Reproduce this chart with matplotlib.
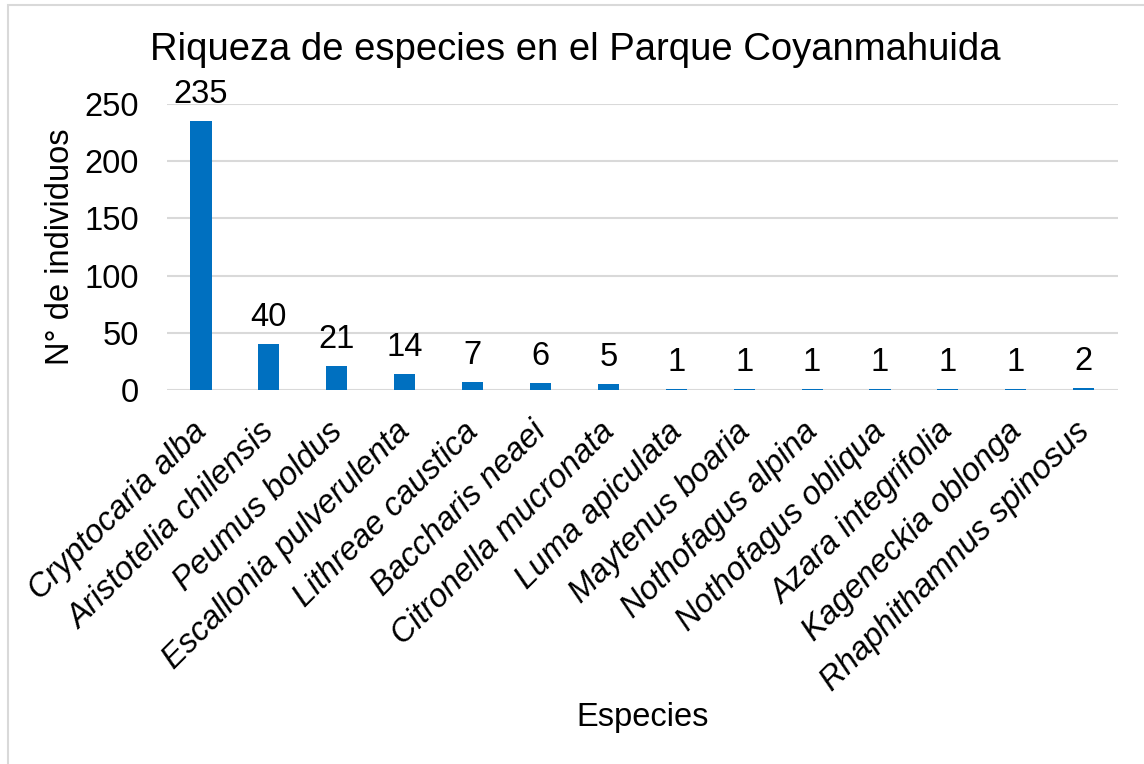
import matplotlib
matplotlib.use("Agg")
import matplotlib.pyplot as plt
import matplotlib.transforms as mtransforms
from matplotlib.patches import Rectangle

species = ["Cryptocaria alba", "Aristotelia chilensis", "Peumus boldus",
           "Escallonia pulverulenta", "Lithreae caustica", "Baccharis neaei",
           "Citronella mucronata", "Luma apiculata", "Maytenus boaria",
           "Nothofagus alpina", "Nothofagus obliqua", "Azara integrifolia",
           "Kageneckia oblonga", "Rhaphithamnus spinosus"]
counts = [235, 40, 21, 14, 7, 6, 5, 1, 1, 1, 1, 1, 1, 2]
yticks = [0, 50, 100, 150, 200, 250]

plt.rcParams['font.family'] = ['Liberation Sans', 'DejaVu Sans']
FS = 23.5

fig = plt.figure(figsize=(11.44, 7.64), dpi=100)
ax = fig.add_axes([0.146, 0.4895, 0.831, 0.3744])

x = list(range(len(species)))
ax.bar(x, counts, width=0.31, color='#0070C0', zorder=3)
for xi, v in zip(x, counts):
    ax.annotate(str(v), (xi, v), xytext=(0, 8), textcoords='offset points',
                ha='center', va='bottom', fontsize=FS, color='#000000')

ax.set_xlim(-0.5, len(species) - 0.5)
ax.set_ylim(0, 250)
ax.set_yticks(yticks)
ax.set_yticklabels([str(t) for t in yticks], fontsize=FS)
ax.set_xticks(x)
ax.set_xticklabels(species, rotation=45, ha='right', rotation_mode='anchor',
                   fontsize=FS, style='italic')
ax.tick_params(axis='y', length=0, pad=20)
ax.tick_params(axis='x', length=0, pad=16)
shift = mtransforms.ScaledTranslation(-0.10, -0.04, fig.dpi_scale_trans)
for lbl in ax.get_xticklabels():
    lbl.set_transform(lbl.get_transform() + shift)
ax.grid(axis='y', color='#d9d9d9', linewidth=1.5, zorder=0)
for s in ax.spines.values():
    s.set_visible(False)

fig.text(0.053, 0.677, "N° de individuos", fontsize=FS, ha='center', va='center',
         rotation=90)
fig.text(0.562, 0.061, "Especies", fontsize=FS, ha='center', va='center')
fig.text(0.503, 0.934, "Riqueza de especies en el Parque Coyanmahuida",
         fontsize=27.5, ha='center', va='center')

fig.patches.append(Rectangle((0.007, -0.01), 1.0, 1.003, transform=fig.transFigure,
                             fill=False, edgecolor='#d9d9d9', linewidth=1.5))

fig.savefig("out.png", dpi=100)
